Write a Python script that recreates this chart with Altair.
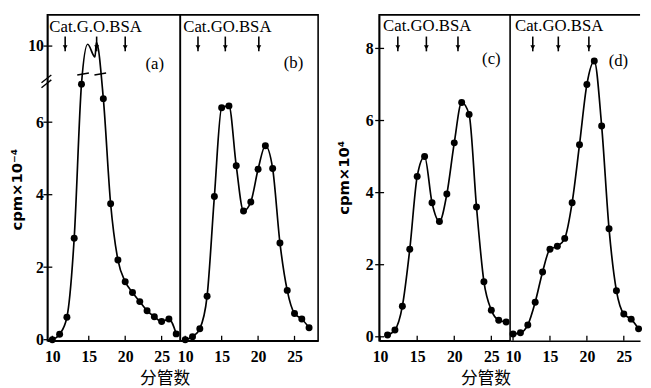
import altair as alt
import pandas as pd

# ---------------- data ----------------
# panel (a): real cpm values; the three vertices above the axis break carry no dot
tubes_a = [10, 11, 12, 13, 14, 14.85, 15.85, 16.05, 17, 18, 19, 20, 21, 22, 23, 24, 25, 26, 27]
cpm_a = [0.0, 0.15, 0.62, 2.8, 7.05, 10.05, 9.7, 10.1, 6.65, 3.75, 2.2, 1.6, 1.3, 1.05, 0.8, 0.63, 0.5, 0.57, 0.16]
dot_a = [1, 1, 1, 1, 1, 0, 0, 0, 1, 1, 1, 1, 1, 1, 1, 1, 1, 1, 1]

tubes_b = list(range(10, 28))
cpm_b = [0.0, 0.08, 0.3, 1.2, 3.95, 6.4, 6.45, 4.8, 3.55, 3.8, 4.7, 5.35, 4.72, 2.67, 1.36, 0.72, 0.57, 0.33]

tubes_c = list(range(11, 28))
cpm_c = [0.05, 0.19, 0.85, 2.43, 4.45, 5.0, 3.72, 3.2, 3.96, 5.38, 6.5, 6.17, 3.6, 1.53, 0.74, 0.46, 0.41]

tubes_d = list(range(10, 28))
cpm_d = [0.08, 0.11, 0.33, 0.96, 1.8, 2.43, 2.51, 2.73, 3.72, 5.33, 7.0, 7.65, 5.85, 3.0, 1.28, 0.63, 0.49, 0.22]

# marker arrows (Cat., G.O., BSA) positions in tube numbers
arrows_a = [11.76, 16.08, 20.0]
arrows_b = [11.75, 15.5, 20.1]
arrows_c = [12.39, 16.24, 20.5]
arrows_d = [12.67, 16.13, 20.27]

marker_text = ["Cat.G.O.BSA", "Cat.GO.BSA", "Cat.GO.BSA", "Cat.GO.BSA"]
panel_names = ["(a)", "(b)", "(c)", "(d)"]

x_ticks = [10, 15, 20, 25]
y_ticks_left = [0, 2, 4, 6, 10]
y_ticks_right = [0, 2, 4, 6, 8]
x_title = "分管数"
y_title_left = "cpm×10⁻⁴"
y_title_right = "cpm×10⁴"

# axis break of panel (a): values above BREAK_AT are drawn shifted down by BREAK_SHIFT
BREAK_AT = 7.5
BREAK_SHIFT = 1.9
line_break_tubes = [14.22, 16.58]


def disp(v):
    return v - BREAK_SHIFT if v > BREAK_AT else v


H = 331
SERIF = "Liberation Serif"


def make_panel(tubes, vals, dots, xdom, width, ydom, arrows, mtext, pname,
               pname_x, pname_y, mtext_x, mtext_y, ytick_disp=None, ylabel_expr=None,
               ytitle=None, ytitle_x=0, ytitle_y=0, ylabel_pad=4,
               xtitle=None, xtitle_x=0, xtitle_y=0, broken=False, transparent=False):
    xscale = alt.Scale(domain=xdom, nice=False, zero=False)
    xax = dict(values=x_ticks, ticks=False, tickSize=0, labelPadding=8, labelFlush=False,
               labelFont=SERIF, labelFontSize=16, labelFontWeight="bold", labelColor="black",
               domain=True, domainColor="black", domainWidth=1.6, grid=False)
    if xtitle:
        xax.update(title=xtitle, titleX=xtitle_x, titleY=xtitle_y, titleAlign="center",
                   titleBaseline="middle", titleFont="Noto Sans CJK SC", titleFontSize=17,
                   titleFontWeight="normal", titleColor="black")
    else:
        xax["title"] = None
    xaxis = alt.Axis(**xax)

    yscale = alt.Scale(domain=ydom, nice=False, zero=False)
    if ytitle:
        yaxis = alt.Axis(values=ytick_disp, labelExpr=ylabel_expr, ticks=False, tickSize=0,
                         labelPadding=ylabel_pad, labelFlush=False, labelFont=SERIF,
                         labelFontSize=16, labelFontWeight="bold", labelColor="black",
                         domain=True, domainColor="black", domainWidth=1.6, grid=False,
                         title=ytitle, titleX=ytitle_x, titleY=ytitle_y, titleAngle=270,
                         titleAlign="center", titleBaseline="middle", titleFont="DejaVu Sans",
                         titleFontSize=15, titleFontWeight="bold", titleColor="black")
    else:
        yaxis = None

    def X(f):
        return alt.X(f, type="quantitative", scale=xscale, axis=xaxis)

    def Y(f):
        return alt.Y(f, type="quantitative", scale=yscale, axis=yaxis)

    yvals = [disp(v) for v in vals] if broken else list(vals)
    df = pd.DataFrame({"t": tubes, "y": yvals, "dot": dots})

    line = alt.Chart(df).mark_line(color="black", strokeWidth=1.7, interpolate="monotone").encode(
        x=X("t"), y=Y("y"))
    pts = alt.Chart(df[df["dot"] == 1]).mark_circle(color="black", size=50, opacity=1).encode(
        x=X("t"), y=Y("y"))

    adf = pd.DataFrame({"t": arrows})
    arr_line = alt.Chart(adf).mark_rule(color="black", strokeWidth=1.6).encode(
        x=X("t"), y=alt.value(22), y2=alt.value(37))
    arr_head = alt.Chart(adf).mark_point(shape="triangle-down", filled=True, color="black",
                                         size=24, opacity=1).encode(x=X("t"), y=alt.value(33))

    tdf = pd.DataFrame({"s": [mtext], "p": [pname]})
    mt = alt.Chart(tdf).mark_text(align="left", baseline="middle", font=SERIF, fontSize=17,
                                  fontWeight="normal", color="black").encode(
        text="s:N", x=alt.value(mtext_x), y=alt.value(mtext_y))
    pn = alt.Chart(tdf).mark_text(align="center", baseline="middle", font=SERIF, fontSize=17,
                                  color="black").encode(
        text="p:N", x=alt.value(pname_x), y=alt.value(pname_y))

    xt = alt.Chart(pd.DataFrame({"t": x_ticks})).mark_rule(color="black", strokeWidth=1.3).encode(
        x=X("t"), y=alt.value(H), y2=alt.value(H - 5))

    layers = [line, pts, arr_line, arr_head, mt, pn, xt]

    if ytitle:
        yt = alt.Chart(pd.DataFrame({"y": ytick_disp})).mark_rule(color="black", strokeWidth=1.3).encode(
            y=Y("y"), x=alt.value(-4), x2=alt.value(5))
        layers.append(yt)

    if broken:
        s1 = alt.Chart(pd.DataFrame({"k": [0]})).mark_rule(color="black", strokeWidth=1.4).encode(
            x=alt.value(-6), x2=alt.value(4), y=alt.value(69), y2=alt.value(61))
        s2 = alt.Chart(pd.DataFrame({"k": [0]})).mark_rule(color="black", strokeWidth=1.4).encode(
            x=alt.value(-6), x2=alt.value(4), y=alt.value(74), y2=alt.value(66))
        bdf = pd.DataFrame({"t1": [t - 0.8 for t in line_break_tubes],
                            "t2": [t + 0.8 for t in line_break_tubes]})
        bm = alt.Chart(bdf).mark_rule(color="black", strokeWidth=1.5).encode(
            x=X("t1"), x2="t2", y=alt.value(61), y2=alt.value(59))
        layers += [s1, s2, bm]

    if transparent:
        top = alt.Chart(pd.DataFrame({"k": [0]})).mark_rule(color="black", strokeWidth=1.6).encode(
            x=alt.value(0), x2=alt.value(width), y=alt.value(0))
        layers.append(top)

    ch = alt.layer(*layers).properties(width=width, height=H)
    if transparent:
        ch = ch.properties(view=alt.ViewBackground(stroke="transparent"))
    return ch


left_ydom = [-0.03, 8.96]
right_ydom = [-0.11, 8.93]
left_ticks_disp = [disp(v) for v in y_ticks_left]

pa = make_panel(tubes_a, cpm_a, dot_a, [9.32, 27.56], 135, left_ydom, arrows_a,
                marker_text[0], panel_names[0], 109, 50, 2, 12,
                ytick_disp=left_ticks_disp,
                ylabel_expr="datum.value > 7 ? '10' : format(datum.value, 'd')",
                ytitle=y_title_left, ytitle_x=-31.5, ytitle_y=177, ylabel_pad=4,
                xtitle=x_title, xtitle_x=119, xtitle_y=38, broken=True)
pb = make_panel(tubes_b, cpm_b, [1] * len(tubes_b), [9.32, 28.24], 140, left_ydom, arrows_b,
                marker_text[1], panel_names[1], 115, 49, 3, 12)
pc = make_panel(tubes_c, cpm_c, [1] * len(tubes_c), [9.87, 27.53], 133, right_ydom, arrows_c,
                marker_text[2], panel_names[2], 114, 45, 4, 11,
                ytick_disp=y_ticks_right,
                ylabel_expr="format(datum.value, 'd')",
                ytitle=y_title_right, ytitle_x=-36, ytitle_y=165, ylabel_pad=6,
                xtitle=x_title, xtitle_x=108, xtitle_y=38)
pd_ = make_panel(tubes_d, cpm_d, [1] * len(tubes_d), [9.6, 27.2], 132, right_ydom, arrows_d,
                 marker_text[3], panel_names[3], 110, 47, 5, 11, transparent=True)

spacer = alt.Chart(pd.DataFrame({"k": [0]})).mark_point(opacity=0).encode(
    x=alt.value(0), y=alt.value(0)).properties(
    width=62, height=H, view=alt.ViewBackground(stroke="transparent"))

chart = alt.hconcat(pa, pb, spacer, pc, pd_, spacing=0, bounds="flush").resolve_scale(
    x="independent", y="independent").properties(
    padding={"left": 0, "top": 0, "right": 0, "bottom": 0},
    background="white").configure_view(stroke="black", strokeWidth=1.6)

chart.save("out.html", embed_options={"renderer": "svg", "actions": False})
